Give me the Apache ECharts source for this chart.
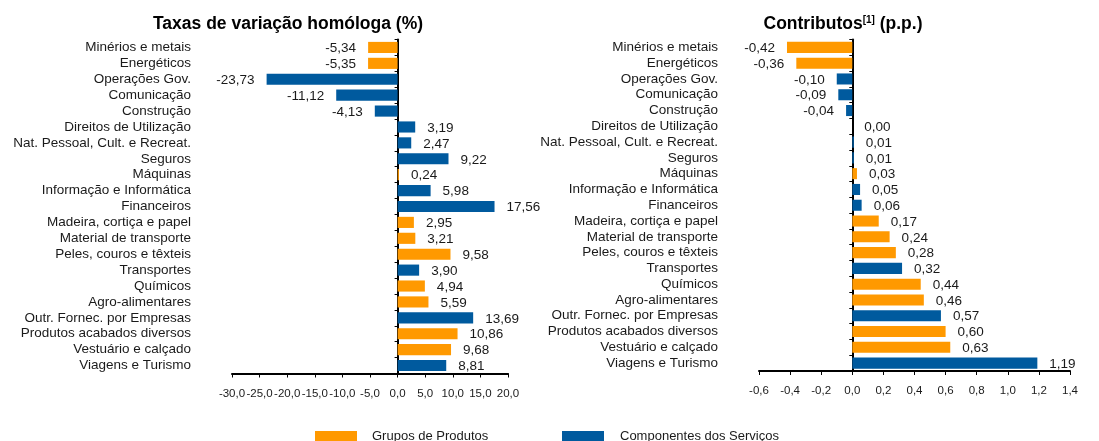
<!DOCTYPE html>
<html>
<head>
<meta charset="utf-8">
<script src="https://cdn.jsdelivr.net/npm/echarts@6/dist/echarts.min.js"></script>
<style>html,body{margin:0;padding:0;background:#fff}#c{width:1099px;height:441px}</style>
</head>
<body>
<div id="c"></div>
<script>
const categories = ["Minérios e metais","Energéticos","Operações Gov.","Comunicação","Construção","Direitos de Utilização","Nat. Pessoal, Cult. e Recreat.","Seguros","Máquinas","Informação e Informática","Financeiros","Madeira, cortiça e papel","Material de transporte","Peles, couros e têxteis","Transportes","Químicos","Agro-alimentares","Outr. Fornec. por Empresas","Produtos acabados diversos","Vestuário e calçado","Viagens e Turismo"];
const groups = ["P","P","S","S","S","S","S","S","P","S","S","P","P","P","S","P","P","S","P","P","S"];
const taxas = [-5.34,-5.35,-23.73,-11.12,-4.13,3.19,2.47,9.22,0.24,5.98,17.56,2.95,3.21,9.58,3.90,4.94,5.59,13.69,10.86,9.68,8.81];
const contributos = [-0.42,-0.36,-0.10,-0.09,-0.04,0.00,0.01,0.01,0.03,0.05,0.06,0.17,0.24,0.28,0.32,0.44,0.46,0.57,0.60,0.63,1.19];
const leftTicks = ["-30,0","-25,0","-20,0","-15,0","-10,0","-5,0","0,0","5,0","10,0","15,0","20,0"];
const rightTicks = ["-0,6","-0,4","-0,2","0,0","0,2","0,4","0,6","0,8","1,0","1,2","1,4"];
const seriesNames = {P:"Grupos de Produtos", S:"Componentes dos Serviços"};
const colors = {P:"#FF9900", S:"#005A9E"};

const FONT = "Liberation Sans, Arial, sans-serif";
const fmt2 = v => v.toFixed(2).replace('.', ',');

function seriesData(values, g) {
  return values.map((v, i) => groups[i] === g
    ? {value: v, label: {position: v < 0 ? 'left' : 'right'}}
    : '-');
}

function makeSeries(values, gi) {
  return ['P','S'].map(g => ({
    name: seriesNames[g],
    type: 'bar',
    xAxisIndex: gi, yAxisIndex: gi * 2,
    stack: 'p' + gi,
    barWidth: '70%',
    itemStyle: {color: colors[g]},
    data: seriesData(values, g),
    label: {show: true, distance: 12, fontFamily: FONT, fontSize: 13.5, color: '#1a1a1a',
      offset: [0, 1], formatter: p => fmt2(p.value)},
    silent: true,
    animation: false
  }));
}

function yAxes(gi) {
  return [
    {type: 'category', gridIndex: gi, data: categories, inverse: true, position: 'left',
      axisLine: {show: false, onZero: false}, axisTick: {show: false},
      axisLabel: {margin: 41, fontFamily: FONT, fontSize: 13.5, color: '#1a1a1a', interval: 0}},
    {type: 'category', gridIndex: gi, data: categories, inverse: true, position: 'left',
      axisLine: {show: true, onZero: true, lineStyle: {color: '#000', width: 2}},
      axisTick: {show: true, length: 3, lineStyle: {color: '#000', width: 1}},
      axisLabel: {show: false}}
  ];
}

function xAxis(gi, min, max, interval, ticks) {
  return {type: 'value', gridIndex: gi, min: min, max: max, interval: interval,
    splitLine: {show: false},
    axisLine: {show: true, onZero: false, lineStyle: {color: '#000', width: 2}},
    axisTick: {show: true, length: 4, lineStyle: {color: '#000', width: 1}},
    axisLabel: {margin: 14, fontFamily: FONT, fontSize: 11.5, color: '#1a1a1a',
      formatter: v => ticks[Math.round((v - min) / interval)]}};
}

const chart = echarts.init(document.getElementById('c'), null, {renderer: 'canvas'});
chart.setOption({
  animation: false,
  title: [
    {text: 'Taxas de variação homóloga (%)', left: 283, top: 10, textAlign: 'center',
      textStyle: {fontFamily: FONT, fontSize: 17.5, fontWeight: 'bold', color: '#000'}},
    {text: 'Contributos{s|[1]} (p.p.)', left: 838, top: 10, textAlign: 'center',
      textStyle: {fontFamily: FONT, fontSize: 17.5, fontWeight: 'bold', color: '#000',
        rich: {s: {fontFamily: FONT, fontSize: 10, fontWeight: 'bold', color: '#000', verticalAlign: 'top', padding: [0,0,8,0]}}}}
  ],
  legend: [
    {data: [seriesNames.P], left: 315, top: 430, padding: 0, itemWidth: 42, itemHeight: 11, icon: 'rect',
      textStyle: {fontFamily: FONT, fontSize: 13, color: '#1a1a1a', padding: [0,0,0,10]}, selectedMode: false},
    {data: [seriesNames.S], left: 562, top: 430, padding: 0, itemWidth: 42, itemHeight: 11, icon: 'rect',
      textStyle: {fontFamily: FONT, fontSize: 13, color: '#1a1a1a', padding: [0,0,0,11]}, selectedMode: false}
  ],
  grid: [
    {left: 232, right: 591, top: 39.5, bottom: 67.5, containLabel: false},
    {left: 759, right: 29, top: 39.5, bottom: 70, containLabel: false}
  ],
  xAxis: [
    xAxis(0, -30, 20, 5, leftTicks),
    xAxis(1, -0.6, 1.4, 0.2, rightTicks)
  ],
  yAxis: [...yAxes(0), ...yAxes(1)],
  series: [...makeSeries(taxas, 0), ...makeSeries(contributos, 1)]
});
</script>
</body>
</html>
